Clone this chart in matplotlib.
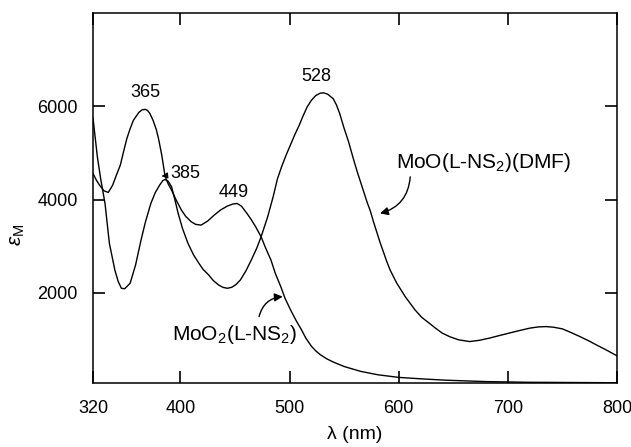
import matplotlib
matplotlib.use("Agg")
import matplotlib.pyplot as plt

plt.rcParams['font.family'] = ['Liberation Sans', 'DejaVu Sans']
plt.rcParams['mathtext.fontset'] = 'custom'
plt.rcParams['mathtext.rm'] = 'Liberation Sans'
plt.rcParams['mathtext.it'] = 'Liberation Sans:italic'

# MoO2(L-NS2) spectrum
lam_a = [320, 323, 326, 330, 334, 338, 341, 345, 348, 351, 354, 357, 362, 365, 368, 370,
         372, 375, 378, 380, 383, 386, 389, 392, 396, 401, 405, 410, 414, 419, 425, 431,
         437, 443, 448, 452, 456, 461, 465, 469, 474, 478, 483, 487, 492, 496, 501, 506,
         511, 515, 520, 524, 528, 534, 540, 550, 565, 581, 600, 620, 643, 680, 720, 760, 800]
eps_a = [4560, 4420, 4310, 4190, 4154, 4310, 4500, 4738, 5030, 5309, 5520, 5700, 5870, 5925,
         5935, 5910, 5850, 5700, 5500, 5309, 4952, 4500, 4330, 4203, 4000, 3775, 3640, 3525,
         3470, 3454, 3540, 3668, 3780, 3861, 3905, 3918, 3860, 3705, 3570, 3418, 3204, 2970,
         2706, 2420, 2135, 1880, 1636, 1410, 1209, 1030, 860, 760, 680, 590, 520, 424, 320,
         246, 190, 160, 130, 100, 85, 80, 75]

# MoO(L-NS2)(DMF) spectrum
lam_b = [320, 322, 324, 327, 331, 335, 340, 343, 346, 349, 354, 359, 364, 368, 373, 377,
         381, 384, 386, 389, 392, 395, 398, 402, 407, 412, 417, 421, 426, 430, 435, 439,
         443, 447, 451, 455, 460, 465, 470, 474, 480, 485, 489, 493, 497, 501, 505, 509,
         512, 516, 520, 524, 528, 531, 535, 540, 543, 546, 550, 554, 558, 562, 567, 571,
         574, 577, 580, 583, 586, 589, 592, 598, 606, 615, 621, 628, 634, 640, 647, 655,
         665, 674, 683, 692, 701, 710, 720, 728, 735, 742, 750, 758, 766, 774, 781, 790, 800]
eps_b = [5750, 5330, 4915, 4450, 3918, 3063, 2492, 2250, 2100, 2090, 2207, 2600, 3134, 3520,
         3919, 4150, 4310, 4410, 4432, 4390, 4274, 4000, 3705, 3380, 3063, 2820, 2635, 2500,
         2385, 2270, 2171, 2120, 2100, 2120, 2180, 2278, 2470, 2706, 2960, 3204, 3632, 4060,
         4450, 4720, 4960, 5180, 5400, 5600, 5771, 5980, 6128, 6230, 6280, 6290, 6260, 6164,
         6030, 5844, 5530, 5250, 4916, 4600, 4240, 3950, 3760, 3520, 3300, 3080, 2880, 2680,
         2500, 2220, 1921, 1636, 1480, 1352, 1240, 1138, 1060, 995, 958, 985, 1031, 1085,
         1138, 1190, 1245, 1272, 1279, 1265, 1230, 1150, 1065, 975, 888, 780, 652]

peak_labels = ["365", "449", "528"]
peak_pos = [(367.7, 6299), (449.2, 4145), (524.5, 6642)]

xticks = [320, 400, 500, 600, 700, 800]
yticks = [2000, 4000, 6000]

fig = plt.figure(figsize=(6.31, 4.47), dpi=100)
ax = fig.add_axes([0.1474, 0.1432, 0.8304, 0.8277])

ax.plot(lam_a, eps_a, color='black', lw=1.0)
ax.plot(lam_b, eps_b, color='black', lw=1.0)

ax.set_xlim(320, 800)
ax.set_ylim(70, 8000)
ax.set_xticks(xticks)
ax.set_yticks(yticks)
ax.tick_params(direction='in', length=8.5, width=1.2, top=True, right=True,
               labelsize=13)
ax.tick_params(axis='x', pad=12)
ax.tick_params(axis='y', pad=11)
for s in ax.spines.values():
    s.set_linewidth(1.1)

for t, (x, y) in zip(peak_labels, peak_pos):
    ax.text(x, y, t, ha='center', va='center', fontsize=13)

# 385 label with a tiny arrow
ax.annotate("385", xy=(382.7, 4503), xytext=(404.3, 4560), ha='center', va='center',
            fontsize=13,
            arrowprops=dict(arrowstyle='-|>', color='black', lw=0.8,
                            mutation_scale=9, shrinkA=0, shrinkB=0))

ax.text(449.8, 995, r'MoO$_2$(L-NS$_2$)', ha='center', va='baseline', fontsize=15)
ax.annotate("", xy=(493.8, 1921), xytext=(472.1, 1493),
            arrowprops=dict(arrowstyle='-|>', color='black', lw=1.0, mutation_scale=12,
                            shrinkA=0, shrinkB=0, connectionstyle='arc3,rad=-0.35'))

ax.text(677.5, 4674, r'MoO(L-NS$_2$)(DMF)', ha='center', va='baseline', fontsize=15)
ax.annotate("", xy=(582.9, 3705), xytext=(610.6, 4488),
            arrowprops=dict(arrowstyle='-|>', color='black', lw=1.0, mutation_scale=12,
                            shrinkA=0, shrinkB=0, connectionstyle='arc3,rad=-0.35'))

ax.set_ylabel(r'$\epsilon_{\rm M}$', fontsize=15)
ax.yaxis.set_label_coords(-0.126, 0.40)
ax.set_xlabel('λ (nm)', fontsize=14)
ax.xaxis.set_label_coords(0.5, -0.115)

fig.savefig("out.png", dpi=100)
